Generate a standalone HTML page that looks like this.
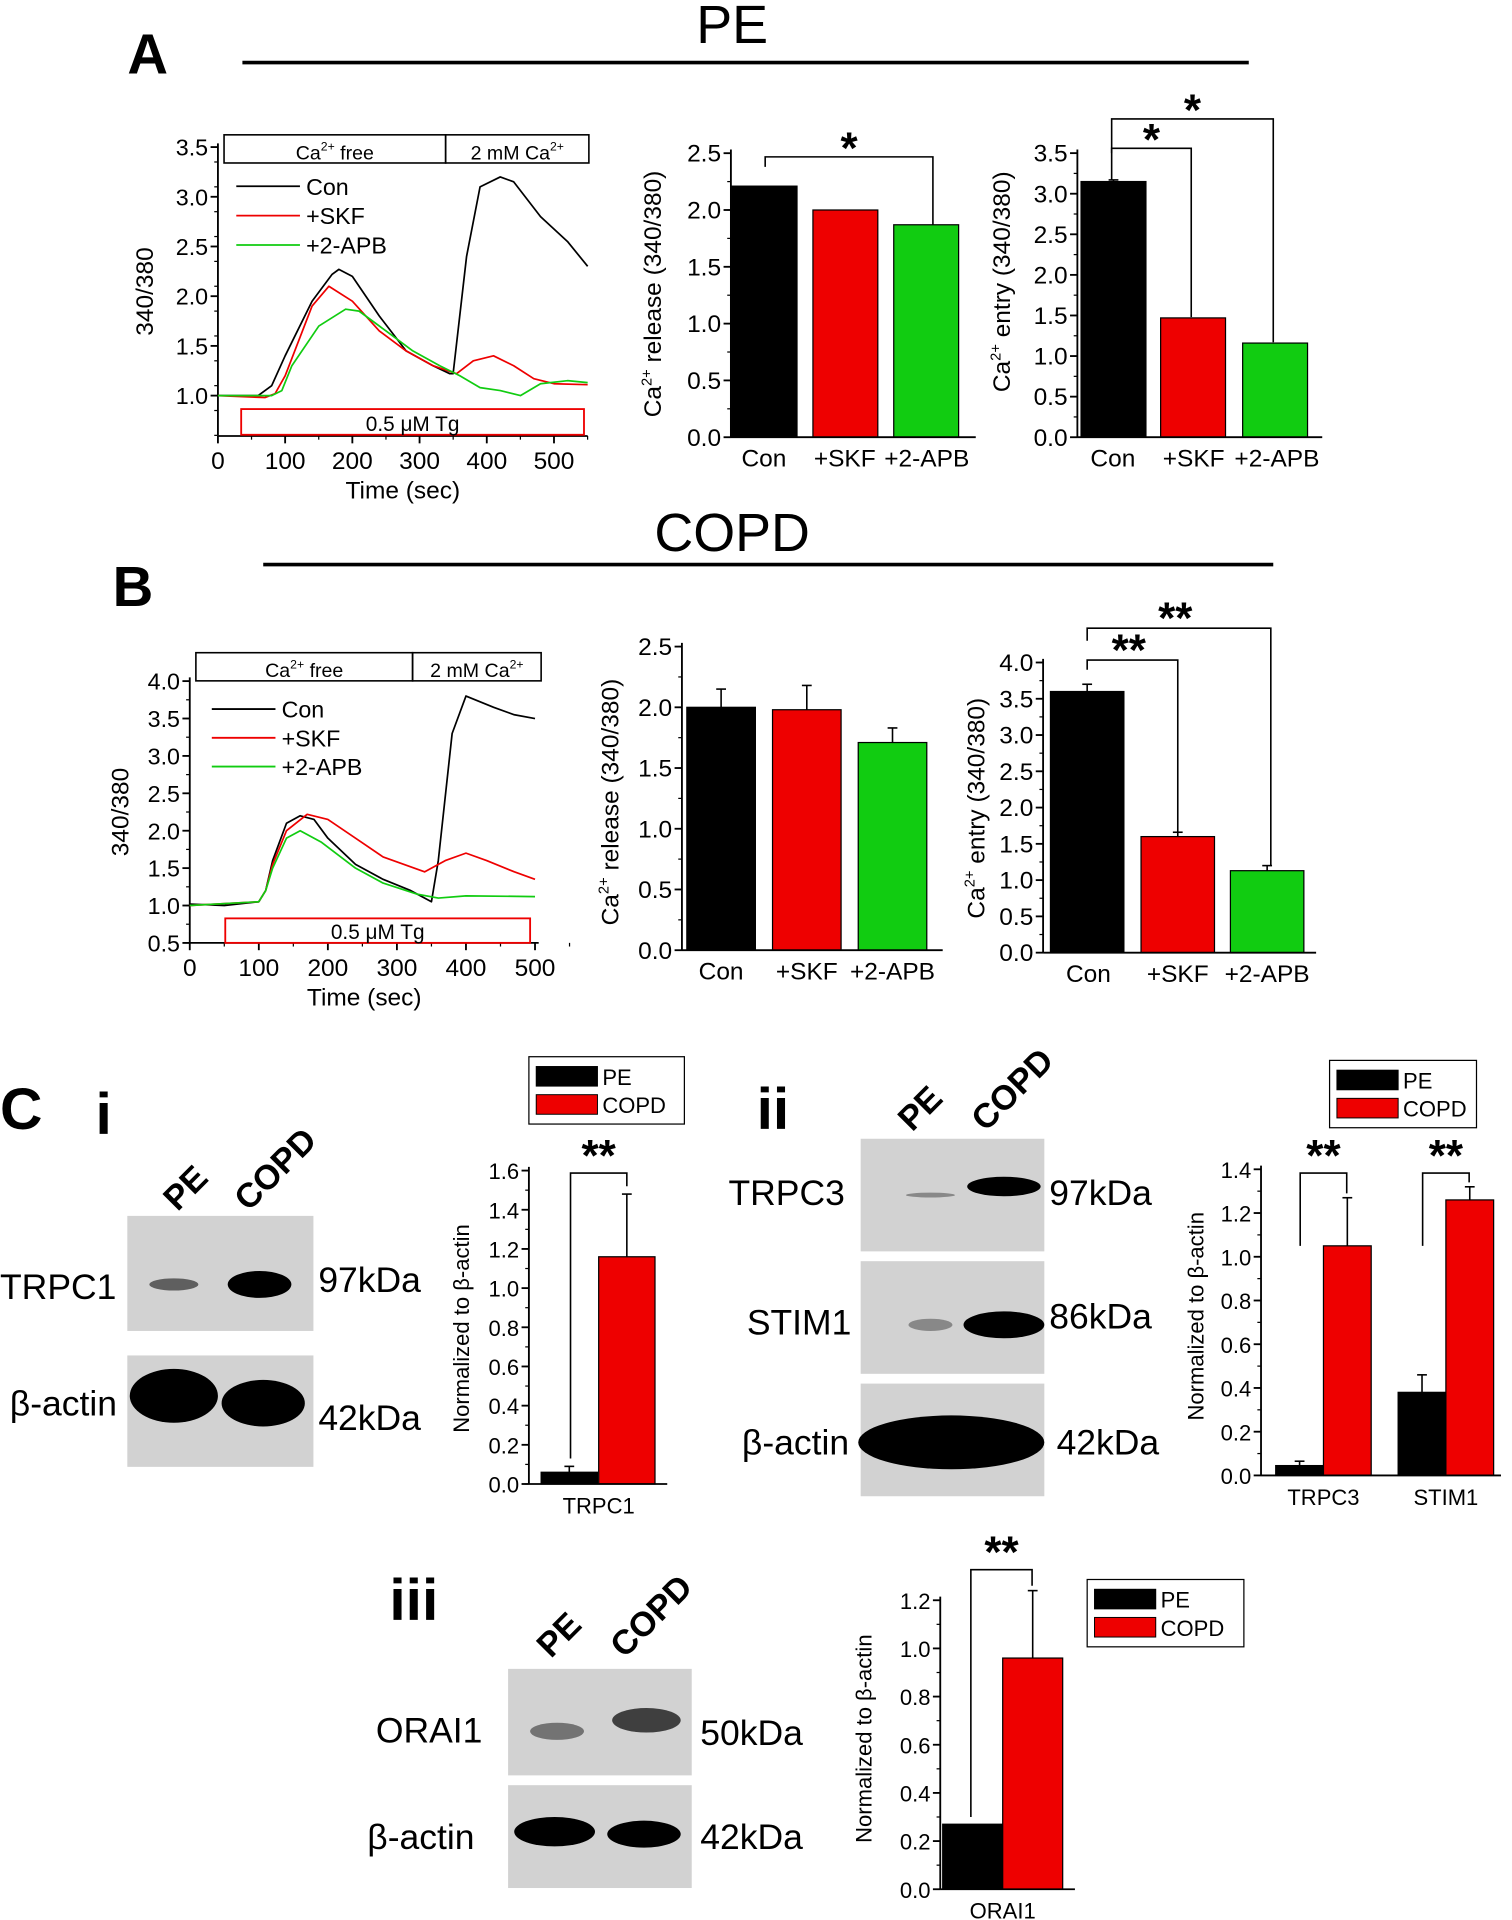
<!DOCTYPE html>
<html><head><meta charset="utf-8"><style>
html,body{margin:0;padding:0;background:#fff;}
svg{display:block;font-family:"Liberation Sans",Arial,sans-serif;}
</style></head><body>
<svg id="fig" width="1512" height="1920" viewBox="0 0 1235 1568" xmlns="http://www.w3.org/2000/svg">
<g>
<text x="104" y="60" font-size="46" font-weight="bold">A</text>
<text x="598" y="35" font-size="44" text-anchor="middle">PE</text>
<line x1="198" y1="51" x2="1020" y2="51" stroke="#000" stroke-width="3"/>
</g>
<g>
<text x="92" y="495" font-size="46" font-weight="bold">B</text>
<text x="598" y="450" font-size="44" text-anchor="middle">COPD</text>
<line x1="215" y1="461" x2="1040" y2="461" stroke="#000" stroke-width="3"/>
</g>
<text x="0" y="922" font-size="48" font-weight="bold">C</text>
<text x="78" y="926" font-size="48" font-weight="bold">i</text>
<text x="618" y="922" font-size="48" font-weight="bold">ii</text>
<text x="318" y="1323" font-size="48" font-weight="bold">iii</text>
<g id="blots"></g>
<g id="charts"></g>
</svg>
<script>
// ---------- DATA ----------
const traceATimes = {
 con:[0,60,80,100,140,170,180,200,240,280,320,345,350,370,390,420,440,480,520,550],
 skf:[0,70,85,100,140,165,200,240,280,320,355,380,410,440,470,500,550],
 apb:[0,80,95,110,150,190,210,250,290,330,360,390,420,450,480,520,550]
};
const traceAValues = {
 con:[1.0,1.0,1.1,1.4,1.95,2.22,2.27,2.2,1.8,1.45,1.3,1.22,1.22,2.4,3.1,3.2,3.15,2.8,2.55,2.3],
 skf:[1.0,0.98,1.02,1.2,1.9,2.1,1.95,1.65,1.45,1.3,1.22,1.35,1.4,1.3,1.17,1.12,1.11],
 apb:[1.0,1.0,1.05,1.3,1.7,1.87,1.85,1.65,1.45,1.3,1.2,1.08,1.05,1.0,1.12,1.15,1.13]
};
const traceBTimes = {
 con:[0,50,100,110,120,140,160,180,200,240,280,320,350,360,380,400,440,470,500],
 skf:[0,100,110,120,140,170,200,240,280,340,370,400,430,470,500],
 apb:[0,100,110,120,140,160,190,240,280,330,360,400,500]
};
const traceBValues = {
 con:[1.02,1.0,1.05,1.2,1.6,2.1,2.2,2.15,1.9,1.55,1.35,1.2,1.05,1.6,3.3,3.8,3.65,3.55,3.5],
 skf:[1.0,1.05,1.2,1.55,2.0,2.22,2.15,1.9,1.65,1.45,1.6,1.7,1.6,1.45,1.35],
 apb:[1.0,1.05,1.2,1.5,1.9,2.0,1.85,1.5,1.3,1.15,1.1,1.13,1.12]
};
const traceYTicksA = ["1.0","1.5","2.0","2.5","3.0","3.5"];
const traceYTicksB = ["0.5","1.0","1.5","2.0","2.5","3.0","3.5","4.0"];
const traceXTicksA = [0,100,200,300,400,500];
const traceXTicksB = [0,100,200,300,400,500];

const treatCategories = ["Con","+SKF","+2-APB"];
const releaseA = [2.21,2.0,1.87];
const releaseAErr = [0.01,0.01,0.01];
const entryA = [3.15,1.47,1.16];
const entryAErr = [0.02,0.01,0.01];
const releaseB = [2.0,1.98,1.71];
const releaseBErr = [0.15,0.2,0.12];
const entryB = [3.6,1.6,1.13];
const entryBErr = [0.1,0.06,0.07];
const releaseTicks = ["0.0","0.5","1.0","1.5","2.0","2.5"];
const entryTicksA = ["0.0","0.5","1.0","1.5","2.0","2.5","3.0","3.5"];
const entryTicksB = ["0.0","0.5","1.0","1.5","2.0","2.5","3.0","3.5","4.0"];

const trpc1PE = [0.06], trpc1PEErr=[0.03], trpc1COPD=[1.16], trpc1COPDErr=[0.32];
const ciiCategories = ["TRPC3","STIM1"];
const ciiPE = [0.045,0.38], ciiPEErr=[0.02,0.08], ciiCOPD=[1.05,1.26], ciiCOPDErr=[0.22,0.06];
const orai1PE=[0.27], orai1PEErr=[0.01], orai1COPD=[0.96], orai1COPDErr=[0.28];
const ciTicks = ["0.0","0.2","0.4","0.6","0.8","1.0","1.2","1.4","1.6"];
const ciiTicks = ["0.0","0.2","0.4","0.6","0.8","1.0","1.2","1.4"];
const ciiiTicks = ["0.0","0.2","0.4","0.6","0.8","1.0","1.2"];

// ---------- HELPERS ----------
const NS="http://www.w3.org/2000/svg";
const root=document.getElementById('charts');
function mk(tag,attrs,parent,text){const e=document.createElementNS(NS,tag);for(const k in attrs)e.setAttribute(k,attrs[k]);if(text!==undefined)e.textContent=text;(parent||root).appendChild(e);return e;}
function line(p,x1,y1,x2,y2,c,w){return mk('line',{x1,y1,x2,y2,stroke:c||'#000','stroke-width':w||1.5},p);}

function yAxis(g,x,yOf,ticks,minorStep,vMin,vMax,fs){
  const ax=line(g,x,yOf(vMax)-3,x,yOf(vMin),'#000',1.5);
  
  
  ticks.forEach(t=>{const v=parseFloat(t),y=yOf(v);line(g,x-6,y,x,y);
    const tx=mk('text',{x:x-8,y:y+7,'font-size':fs||19,'text-anchor':'end'},g,t);
    
    });
  for(let v=vMin;v<=vMax+1e-9;v+=minorStep){line(g,x-3,yOf(v),x,yOf(v),'#000',1);}
}
function ylabel(g,x,y,txt,fs){const t=mk('text',{x:0,y:0,'font-size':fs||19,'text-anchor':'middle',transform:`translate(${x},${y}) rotate(-90)`},g);t.innerHTML=txt;
  
  return t;}

function trace(g,times,vals,xOf,yOf,color,name){
  const d=times.map((t,i)=>(i?'L':'M')+xOf(t).toFixed(1)+','+yOf(vals[i]).toFixed(1)).join('');
  const p=mk('path',{d,fill:'none',stroke:color,'stroke-width':1.4,'stroke-linejoin':'round'},g);
  
  
}

function traceChart(cfg){
  const g=mk('g',{});
  
  
  const xOf=t=>cfg.x0+t*cfg.xs, yOf=v=>cfg.y1-(v-cfg.v1)*cfg.ys;
  line(g,cfg.x0,cfg.yBottom,cfg.xEnd,cfg.yBottom);
  yAxis(g,cfg.x0,yOf,cfg.yTicks,cfg.minor,cfg.vBottom,cfg.vTop,19);
  cfg.xTicks.forEach(t=>{const x=xOf(t);line(g,x,cfg.yBottom,x,cfg.yBottom+6);
    const tx=mk('text',{x,y:cfg.yBottom+27,'font-size':20,'text-anchor':'middle'},g,t);
    
    
    line(g,x+50*cfg.xs,cfg.yBottom,x+50*cfg.xs,cfg.yBottom+3,'#000',1);});
  const xt=mk('text',{x:(cfg.x0+cfg.xEnd)/2,y:cfg.yBottom+51,'font-size':20,'text-anchor':'middle'},g,'Time (sec)');
  
  
  ylabel(g,cfg.ylx,(cfg.yBottom+yOf(cfg.vTop))/2,'340/380',20);
  const b1=mk('rect',{x:cfg.bx0,y:cfg.by,width:cfg.bx1-cfg.bx0,height:23,fill:'none',stroke:'#000','stroke-width':1.3},g);
  
  
  const b2=mk('rect',{x:cfg.bx1,y:cfg.by,width:cfg.bx2-cfg.bx1,height:23,fill:'none',stroke:'#000','stroke-width':1.3},g);
  
  
  mk('text',{x:(cfg.bx0+cfg.bx1)/2,y:cfg.by+20,'font-size':16,'text-anchor':'middle'},g).innerHTML='Ca<tspan font-size="10" dy="-7">2+</tspan><tspan dy="7"> free</tspan>';
  mk('text',{x:(cfg.bx1+cfg.bx2)/2,y:cfg.by+20,'font-size':16,'text-anchor':'middle'},g).innerHTML='2 mM Ca<tspan font-size="10" dy="-7">2+</tspan>';
  const tg=mk('rect',{x:cfg.tg0,y:cfg.tgy,width:cfg.tg1-cfg.tg0,height:cfg.tgh,fill:'none',stroke:'#e00','stroke-width':1.5},g);
  
  
  mk('text',{x:(cfg.tg0+cfg.tg1)/2,y:cfg.tgy+cfg.tgh-3,'font-size':17,'text-anchor':'middle'},g,'0.5 μM Tg');
  const cols={con:'#000',skf:'#e00',apb:'#1c1'}, labs={con:'Con',skf:'+SKF',apb:'+2-APB'};
  ['con','skf','apb'].forEach((k,i)=>{
    trace(g,cfg.times[k],cfg.vals[k],xOf,yOf,cols[k],'trace-'+k);
    const y=cfg.ly+i*cfg.ldy;
    line(g,cfg.lx,y,cfg.lx+52,y,cols[k],1.5);
    const t=mk('text',{x:cfg.lx+57,y:y+7,'font-size':19},g,labs[k]);
    
    
  });
}

function barChart(cfg){
  const g=mk('g',{});
  
  
  const yOf=v=>cfg.y0-v*cfg.ys;
  if(cfg.legend){const L=cfg.legend;
    const box=mk('rect',{x:L.x,y:L.y,width:L.w,height:55,fill:'#fff',stroke:'#000','stroke-width':1},g);
    
    
    [['#000','PE'],['#e00','COPD']].forEach((it,i)=>{
      mk('rect',{x:L.x+6,y:L.y+8+i*23,width:50,height:16,fill:it[0],stroke:'#000','stroke-width':0.8},g);
      const t=mk('text',{x:L.x+60,y:L.y+23+i*23,'font-size':18},g,it[1]);
      
      
    });
  }
  cfg.series.forEach((s,si)=>{
    s.vals.forEach((v,i)=>{
      const x=cfg.bx[si][i], w=cfg.bw;
      const r=mk('rect',{x,y:yOf(v),width:w,height:cfg.y0-yOf(v),fill:s.colors[i],stroke:'#000','stroke-width':1},g);
      
      
      const e=s.err[i]; if(e>0.015){const cx=x+w/2;line(g,cx,yOf(v),cx,yOf(v+e),'#000',1.3);line(g,cx-4,yOf(v+e),cx+4,yOf(v+e),'#000',1.3);}
    });
  });
  line(g,cfg.x0,cfg.y0,cfg.xEnd,cfg.y0);
  yAxis(g,cfg.x0,yOf,cfg.ticks,cfg.minor,0,cfg.vMax,cfg.fs||20);
  cfg.cats.forEach((c,i)=>{const t=mk('text',{x:cfg.cx[i],y:cfg.y0+24,'font-size':cfg.fs||20,'text-anchor':'middle'},g,c);
    
    });
  ylabel(g,cfg.ylx,cfg.yly,cfg.ylab,cfg.fs||20);
  (cfg.brackets||[]).forEach(b=>{
    const p=mk('path',{d:`M${b.x1},${yOf(b.v1)}V${b.y}H${b.x2}V${yOf(b.v2)}`,fill:'none',stroke:'#000','stroke-width':1.3},g);
    
    
    const t=mk('text',{x:(b.x1+b.x2)/2+(b.sx||0),y:b.y+(b.sy||0),'font-size':36,'text-anchor':'middle','font-weight':'bold'},g,b.s);
    
    
  });
}

// ---------- CHARTS ----------
traceChart({name:'trace-chart-a',x0:178,xs:0.549,xEnd:480,y1:323,v1:1,ys:81.2,yBottom:356,vBottom:0.6,vTop:3.5,minor:0.25,
 yTicks:traceYTicksA,xTicks:traceXTicksA,ylx:125,bx0:183,bx1:364,bx2:481,by:110,tg0:197,tg1:477,tgy:334,tgh:21,
 lx:193,ly:152,ldy:24,times:traceATimes,vals:traceAValues});
traceChart({name:'trace-chart-b',x0:155,xs:0.564,xEnd:440,y1:739.5,v1:1,ys:61.1,yBottom:770,vBottom:0.5,vTop:4.0,minor:0.25,
 yTicks:traceYTicksB,xTicks:traceXTicksB,ylx:105,bx0:160,bx1:337,bx2:442,by:533,tg0:184,tg1:433,tgy:750,tgh:20,
 lx:173,ly:579,ldy:23.5,times:traceBTimes,vals:traceBValues});

const tc=['#000','#e00','#1c1'];
barChart({name:'release-chart-a',x0:597,xEnd:797,y0:357,ys:92.8,vMax:2.5,minor:0.25,ticks:releaseTicks,bw:53,
 series:[{key:'release',vals:releaseA,err:releaseAErr,colors:tc}],bx:[[598,664,730]],cats:treatCategories,cx:[624,690,757],
 ylx:540,yly:240,ylab:'Ca<tspan font-size="12" dy="-8">2+</tspan><tspan dy="8"> release (340/380)</tspan>',
 brackets:[{x1:625,v1:2.38,x2:762,v2:1.87,y:128,s:'*',sy:5}]});
barChart({name:'entry-chart-a',x0:880,xEnd:1080,y0:357,ys:66.3,vMax:3.5,minor:0.25,ticks:entryTicksA,bw:53,
 series:[{key:'entry',vals:entryA,err:entryAErr,colors:tc}],bx:[[883,948,1015]],cats:treatCategories,cx:[909,975,1043],
 ylx:825,yly:230,ylab:'Ca<tspan font-size="12" dy="-8">2+</tspan><tspan dy="8"> entry (340/380)</tspan>',
 brackets:[{x1:908,v1:3.17,x2:973,v2:1.48,y:121,s:'*',sy:5},{x1:908,v1:3.5,x2:1040,v2:1.17,y:97,s:'*',sy:5}]});
barChart({name:'release-chart-b',x0:557,xEnd:770,y0:776,ys:99.2,vMax:2.5,minor:0.25,ticks:releaseTicks,bw:56,
 series:[{key:'release',vals:releaseB,err:releaseBErr,colors:tc}],bx:[[561,631,701]],cats:treatCategories,cx:[589,659,729],
 ylx:505,yly:655,ylab:'Ca<tspan font-size="12" dy="-8">2+</tspan><tspan dy="8"> release (340/380)</tspan>'});
barChart({name:'entry-chart-b',x0:852,xEnd:1075,y0:778,ys:59.25,vMax:4.0,minor:0.25,ticks:entryTicksB,bw:60,
 series:[{key:'entry',vals:entryB,err:entryBErr,colors:tc}],bx:[[858,932,1005]],cats:treatCategories,cx:[889,962,1035],
 ylx:804,yly:660,ylab:'Ca<tspan font-size="12" dy="-8">2+</tspan><tspan dy="8"> entry (340/380)</tspan>',
 brackets:[{x1:888,v1:3.9,x2:962,v2:1.66,y:539,s:'**',sy:4,sx:-3},{x1:888,v1:4.3,x2:1038,v2:1.2,y:513,s:'**',sy:4,sx:-3}]});

barChart({name:'trpc1-chart',x0:432,xEnd:545,y0:1212,ys:160,vMax:1.6,minor:0.1,ticks:ciTicks,bw:46,fs:18,
 series:[{key:'pe',vals:trpc1PE,err:trpc1PEErr,colors:['#000']},{key:'copd',vals:trpc1COPD,err:trpc1COPDErr,colors:['#e00']}],
 bx:[[442],[489]],cats:['TRPC1'],cx:[489],ylx:383,yly:1085,ylab:'Normalized to β-actin',
 brackets:[{x1:466,v1:0.13,x2:512,v2:1.52,y:958,s:'**',sy:-2}],legend:{x:432,y:863,w:127}});
barChart({name:'trpc3-stim1-chart',x0:1030,xEnd:1226,y0:1205,ys:178.6,vMax:1.4,minor:0.1,ticks:ciiTicks,bw:39,fs:18,
 series:[{key:'pe',vals:ciiPE,err:ciiPEErr,colors:['#000','#000']},{key:'copd',vals:ciiCOPD,err:ciiCOPDErr,colors:['#e00','#e00']}],
 bx:[[1042,1142],[1081,1181]],cats:ciiCategories,cx:[1081,1181],ylx:983,yly:1075,ylab:'Normalized to β-actin',
 brackets:[{x1:1062,v1:1.05,x2:1100,v2:1.29,y:958,s:'**',sy:-2},{x1:1162,v1:1.05,x2:1200,v2:1.34,y:958,s:'**',sy:-2}],legend:{x:1086,y:866,w:120}});
barChart({name:'orai1-chart',x0:768,xEnd:878,y0:1543,ys:196.7,vMax:1.2,minor:0.1,ticks:ciiiTicks,bw:49,fs:18,
 series:[{key:'pe',vals:orai1PE,err:orai1PEErr,colors:['#000']},{key:'copd',vals:orai1COPD,err:orai1COPDErr,colors:['#e00']}],
 bx:[[770],[819]],cats:['ORAI1'],cx:[819],ylx:712,yly:1420,ylab:'Normalized to β-actin',
 brackets:[{x1:793,v1:0.3,x2:843,v2:1.26,y:1282,s:'**',sy:-2}],legend:{x:888,y:1290,w:128}});

// ---------- BLOTS ----------
const bl=document.getElementById('blots');
function blot(name,x,y,w,h,bands){const g=mk('g',{},bl);
  
  
  mk('rect',{x,y,width:w,height:h,fill:'#d2d2d2'},g);
  bands.forEach(b=>mk('ellipse',{cx:b[0],cy:b[1],rx:b[2],ry:b[3],fill:'#000','fill-opacity':b[4]},g));}
function lbl(x,y,t,fs,anchor){const e=mk('text',{x,y,'font-size':fs||29,'text-anchor':anchor||'start'},bl,t);
  
  }
function lane(x,y,t){const e=mk('text',{x:0,y:0,'font-size':28,'font-weight':'bold',transform:`translate(${x},${y}) rotate(-45)`},bl,t);
  
  }
blot('trpc1-blot',104,993,152,94,[[142,1049,20,5,0.55],[212,1049,26,11,1]]);
blot('ci-actin-blot',104,1107,152,91,[[142,1140,36,22,1],[215,1146,34,19,1]]);
lbl(0,1061,'TRPC1');lbl(8,1156,'β-actin');lbl(260,1055,'97kDa');lbl(260,1168,'42kDa');
lane(145,990,'PE');lane(203,990,'COPD');
blot('trpc3-blot',703,930,150,92,[[760,976,20,2,0.35],[820,969,30,8,1]]);
blot('stim1-blot',703,1030,150,92,[[760,1082,18,5,0.35],[820,1082,33,11,1]]);
blot('cii-actin-blot',703,1130,150,92,[[777,1178,76,22,1]]);
lbl(595,984,'TRPC3');lbl(610,1090,'STIM1');lbl(606,1188,'β-actin');lbl(857,984,'97kDa');lbl(857,1085,'86kDa');lbl(863,1188,'42kDa');
lane(745,925,'PE');lane(805,925,'COPD');
blot('orai1-blot',415,1363,150,87,[[455,1414,22,7,0.45],[528,1405,28,10,0.7]]);
blot('ciii-actin-blot',415,1458,150,84,[[453,1496,33,12,1],[526,1498,30,11,1]]);
lbl(307,1423,'ORAI1');lbl(300,1510,'β-actin');lbl(572,1425,'50kDa');lbl(572,1510,'42kDa');
lane(450,1355,'PE');lane(510,1355,'COPD');
</script>
</body></html>
